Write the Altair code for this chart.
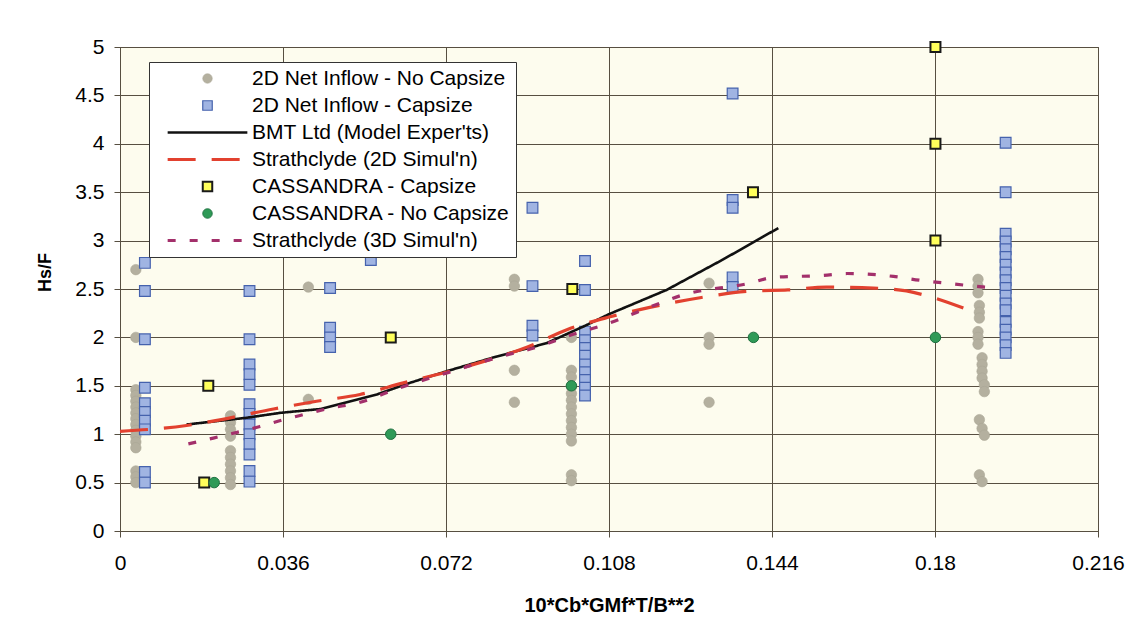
import altair as alt
import pandas as pd

FONT = "Liberation Sans"

# ---------------- data ----------------
SERIES = [
    "2D Net Inflow - No Capsize",
    "2D Net Inflow - Capsize",
    "BMT Ltd (Model Exper'ts)",
    "Strathclyde (2D Simul'n)",
    "CASSANDRA - Capsize",
    "CASSANDRA - No Capsize",
    "Strathclyde (3D Simul'n)",
]

X_TICKS = [0, 0.036, 0.072, 0.108, 0.144, 0.18, 0.216]
Y_TICKS = [0, 0.5, 1, 1.5, 2, 2.5, 3, 3.5, 4, 4.5, 5]

# 2D Net Inflow - No Capsize (grey circles), grouped by column
NOCAP_COL_X = [0.0035, 0.0244, 0.0416, 0.0871, 0.0997, 0.1301,
               0.1895, 0.1898, 0.1904, 0.1909]
NOCAP_COL_Y = [
    [2.70, 2.00, 1.46, 1.40, 1.34, 1.28, 1.22, 1.16, 1.10, 1.04, 0.98, 0.92, 0.86, 0.62, 0.56, 0.50],
    [1.19, 1.12, 1.05, 0.98, 0.83, 0.76, 0.69, 0.62, 0.55, 0.48],
    [2.52, 1.36],
    [2.60, 2.53, 1.66, 1.33],
    [2.00, 1.66, 1.59, 1.49, 1.42, 1.35, 1.28, 1.21, 1.14, 1.07, 1.00, 0.93, 0.58, 0.52],
    [2.56, 2.00, 1.93, 1.33],
    [2.60, 2.53, 2.46, 2.06, 2.00, 1.93],
    [2.33, 2.26, 2.20, 1.15, 0.58],
    [1.79, 1.72, 1.65, 1.58, 1.06, 0.51],
    [1.51, 1.44, 0.99],
]

# 2D Net Inflow - Capsize (blue squares), grouped by column
CAP_COL_X = [0.0055, 0.0286, 0.0464, 0.0554, 0.0911, 0.1027, 0.1353, 0.1956]
CAP_COL_Y = [
    [2.77, 2.48, 1.98, 1.48, 1.32, 1.23, 1.14, 1.05, 0.61, 0.50],
    [2.48, 1.98, 1.72, 1.62, 1.51, 1.31, 1.21, 1.10, 1.00, 0.90, 0.79, 0.62, 0.51],
    [2.51, 2.10, 2.00, 1.90],
    [2.80],
    [3.34, 2.53, 2.12, 2.02],
    [2.79, 2.49, 2.06, 1.97, 1.89, 1.81, 1.72, 1.64, 1.56, 1.48, 1.40],
    [4.52, 3.42, 3.34, 2.62, 2.52],
    [4.01, 3.50, 3.07, 2.99, 2.91, 2.83, 2.75, 2.67, 2.59, 2.51, 2.43, 2.35, 2.28,
     2.16, 2.08, 2.00, 1.92, 1.84],
]

# CASSANDRA
CASS_CAP_X = [0.0186, 0.0195, 0.0598, 0.0999, 0.1398, 0.1801, 0.1801, 0.1801]
CASS_CAP_Y = [0.5, 1.5, 2.0, 2.5, 3.5, 3.0, 4.0, 5.0]
CASS_NOCAP_X = [0.0208, 0.0598, 0.0997, 0.1399, 0.1801]
CASS_NOCAP_Y = [0.5, 1.0, 1.5, 2.0, 2.0]

# BMT Ltd (Model Exper'ts)
BMT_X = [0.0147, 0.0280, 0.0353, 0.0442, 0.0567, 0.0640, 0.0721, 0.0830, 0.0942,
         0.1027, 0.1080, 0.1207, 0.1330, 0.1413, 0.1454]
BMT_Y = [1.10, 1.17, 1.22, 1.26, 1.41, 1.53, 1.65, 1.80, 1.94,
         2.12, 2.24, 2.49, 2.80, 3.02, 3.13]

# Strathclyde (2D Simul'n)
S2D_X = [0.0, 0.0147, 0.0199, 0.0339, 0.0434, 0.0530, 0.0626, 0.0720, 0.0802, 0.0900,
         0.0987, 0.1080, 0.1170, 0.1281, 0.1399, 0.1475, 0.1560, 0.1664, 0.1737, 0.1782, 0.1870]
S2D_Y = [1.03, 1.09, 1.13, 1.26, 1.34, 1.41, 1.53, 1.64, 1.75, 1.90,
         2.08, 2.21, 2.31, 2.41, 2.48, 2.49, 2.52, 2.51, 2.48, 2.43, 2.29]

# Strathclyde (3D Simul'n)
S3D_X = [0.0151, 0.0206, 0.0309, 0.0361, 0.0412, 0.0464, 0.0523, 0.0618, 0.0720, 0.0839,
         0.0928, 0.0987, 0.1082, 0.1185, 0.1237, 0.1391, 0.1443, 0.1553, 0.1606, 0.1708,
         0.1767, 0.1826, 0.1885, 0.1936]
S3D_Y = [0.90, 0.96, 1.08, 1.15, 1.21, 1.27, 1.32, 1.48, 1.63, 1.80,
         1.91, 2.01, 2.15, 2.34, 2.43, 2.56, 2.62, 2.64, 2.66, 2.63,
         2.59, 2.56, 2.53, 2.51]

# ---------------- styles ----------------
LINE_SYMBOL = "M-8.4,0L8.4,0"
FILLS = ["#b4b09f", "#a0b4e2", "transparent", "transparent", "#ffff5c", "#2f9a57", "transparent"]
STROKES = ["#aaa696", "#4562ad", "#111111", "#e2412f", "#1a1a1a", "#1e7040", "#a3306b"]
SHAPES = ["circle", "square", LINE_SYMBOL, LINE_SYMBOL, "square", "circle", LINE_SYMBOL]
DASHES = [[1, 0], [1, 0], [1, 0], [28, 16], [1, 0], [1, 0], [8, 14]]
WIDTHS = [0.6, 1.2, 2.6, 3.2, 2.0, 1.0, 3.2]
GRID = "#574f41"


def table(xs, ys, name):
    return pd.DataFrame({"x": xs, "y": ys, "series": name})


def columns_table(col_x, col_y, name):
    xs, ys = [], []
    for cx, cy in zip(col_x, col_y):
        xs += [cx] * len(cy)
        ys += list(cy)
    return table(xs, ys, name)


legend = alt.Legend(
    title=None, orient="none", legendX=29, legendY=15, direction="vertical", columns=1,
    fillColor="white", strokeColor="#333333", padding=6,
    labelFont=FONT, labelFontSize=21, labelColor="black", labelLimit=500,
    symbolSize=90, symbolOffset=42, labelOffset=34, rowPadding=5,
)

X = alt.X(
    "x:Q",
    scale=alt.Scale(domain=[0, 0.216], nice=False, zero=False),
    axis=alt.Axis(
        values=X_TICKS, format=".3~f", labelFlush=False, labelFont=FONT, labelFontSize=21,
        labelColor="black", labelPadding=15, tickSize=6, tickColor=GRID, domainColor=GRID,
        gridColor=GRID, gridWidth=1, gridOpacity=1,
        titleFont=FONT, titleFontSize=20, titleFontWeight="bold", titleColor="black",
        titleY=64, titleBaseline="top",
    ),
    title="10*Cb*GMf*T/B**2",
)
Y = alt.Y(
    "y:Q",
    scale=alt.Scale(domain=[0, 5], nice=False),
    axis=alt.Axis(
        values=Y_TICKS, format=".1~f", labelFlush=False, labelFont=FONT, labelFontSize=21,
        labelColor="black", labelPadding=10, tickSize=6, tickColor=GRID, domainColor=GRID,
        gridColor=GRID, gridWidth=1, gridOpacity=1,
        titleFont=FONT, titleFontSize=18, titleFontWeight="bold", titleColor="black",
        titleAngle=270, titleX=-75, titleY=225, titleAlign="center", titleBaseline="middle",
    ),
    title="Hs/F",
)
FILL = alt.Fill("series:N", scale=alt.Scale(domain=SERIES, range=FILLS), legend=legend)
STROKE = alt.Stroke("series:N", scale=alt.Scale(domain=SERIES, range=STROKES), legend=legend)
SHAPE = alt.Shape("series:N", scale=alt.Scale(domain=SERIES, range=SHAPES), legend=legend)
DASH = alt.StrokeDash("series:N", scale=alt.Scale(domain=SERIES, range=DASHES), legend=legend)
WIDTH = alt.StrokeWidth("series:N", scale=alt.Scale(type="ordinal", domain=SERIES, range=WIDTHS),
                        legend=legend)


def points(df, size):
    return alt.Chart(df).mark_point(size=size, opacity=1).encode(
        x=X, y=Y, fill=FILL, stroke=STROKE, shape=SHAPE, strokeWidth=WIDTH
    )


def curve(df, interp):
    return alt.Chart(df).mark_line(interpolate=interp).encode(
        x=X, y=Y, stroke=STROKE, strokeDash=DASH, strokeWidth=WIDTH
    )


grey = points(columns_table(NOCAP_COL_X, NOCAP_COL_Y, SERIES[0]), 110)
blue = points(columns_table(CAP_COL_X, CAP_COL_Y, SERIES[1]), 115)
bmt = curve(table(BMT_X, BMT_Y, SERIES[2]), "linear")
s2d = curve(table(S2D_X, S2D_Y, SERIES[3]), "monotone")
yellow = points(table(CASS_CAP_X, CASS_CAP_Y, SERIES[4]), 100)
green = points(table(CASS_NOCAP_X, CASS_NOCAP_Y, SERIES[5]), 110)
s3d = curve(table(S3D_X, S3D_Y, SERIES[6]), "monotone")

chart = (
    alt.layer(grey, blue, bmt, s2d, yellow, green, s3d)
    .properties(
        width=978, height=484,
        padding={"left": 112, "top": 39, "right": 34, "bottom": 83},
        autosize=alt.AutoSizeParams(type="none"),
    )
    .configure(background="white")
    .configure_view(fill="#fdfcee", stroke=GRID, strokeWidth=1)
    .configure_legend(symbolFillColor="transparent", symbolStrokeColor="black")
)

chart.save("out.html", embed_options={"renderer": "svg", "actions": False})
